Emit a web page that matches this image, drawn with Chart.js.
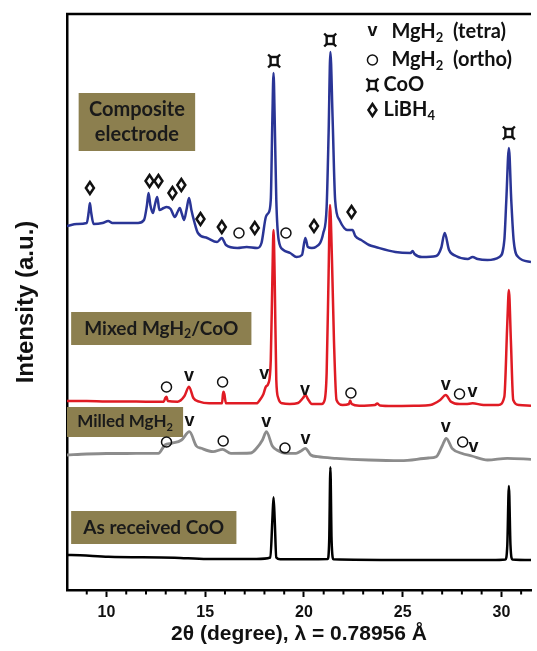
<!DOCTYPE html>
<html>
<head>
<meta charset="utf-8">
<script src="https://cdn.jsdelivr.net/npm/chart.js@4.4.1/dist/chart.umd.min.js"></script>
<style>
  body { margin: 0; background: #fff; }
  #wrap { width: 537px; height: 651px; }
</style>
</head>
<body>
<div id="wrap"><canvas id="xrd"></canvas></div>
<script>
// 2theta (deg) vs stacked intensity (a.u.)
const compositePts = [
  [8.0,364],[8.5,366],[9.0,367],[9.1,378],[9.16,387],[9.22,378],[9.35,366],[9.8,367],[10.09,369],[10.3,367],
  [11.0,367],[11.6,367],[11.9,370],[12.05,385],[12.13,397],[12.22,385],[12.35,377],[12.45,385],[12.57,393],[12.68,380],
  [12.9,382],[13.04,383],[13.25,381],[13.46,373],[13.6,378],[13.71,382],[13.82,376],[13.93,370],[14.05,380],[14.18,392],
  [14.3,380],[14.45,368],[14.63,357],[15.1,352],[15.6,348],[15.84,352],[16.05,345],[16.63,342],[17.1,343],[17.63,342],
  [17.85,347],[18.07,373],[18.2,377],[18.32,390],[18.4,470],[18.46,517],[18.52,470],[18.6,390],[18.72,350],[18.96,340],
  [19.3,337],[19.63,333],[19.9,335],[20.07,352],[20.2,343],[20.4,342],[20.6,343],[20.98,357],[21.15,383],[21.25,457],
  [21.34,538],[21.45,473],[21.58,390],[21.8,370],[22.2,360],[22.46,360],[22.6,354],[22.9,350],[23.3,345],[23.63,343],
  [24.63,338],[25.4,337],[25.5,339],[25.6,336],[25.98,333],[26.7,334],[26.95,342],[27.13,357],[27.35,340],[27.7,334],
  [28.3,331],[28.54,333],[28.8,331],[29.29,330],[29.9,333],[30.15,350],[30.25,390],[30.38,442],[30.5,390],[30.62,350],
  [30.85,333],[31.5,328]
];
const mixedPts = [
  [8.0,189],[9.0,189],[10.0,188.5],[11.0,188.5],[12.0,188.3],[12.9,188.3],[12.98,192],[13.04,193.3],[13.1,189],[13.6,188.3],
  [13.95,194],[14.18,203.3],[14.4,192],[14.7,188.3],[15.2,186.7],[15.85,186.7],[15.9,196],[15.93,198.3],[15.97,196],[16.05,186.7],
  [17.0,186.7],[17.6,186.7],[17.8,191],[17.95,196],[18.07,203.3],[18.2,206.7],[18.32,230],[18.4,310],[18.46,360],[18.52,310],
  [18.6,210],[18.7,192],[18.9,186.7],[19.28,186],[19.7,187],[19.95,192],[20.08,195],[20.2,191],[20.4,186],[20.9,186],
  [21.05,190],[21.15,217],[21.25,317],[21.32,385],[21.42,330],[21.52,250],[21.65,190],[21.96,185],[22.28,186],[22.34,189.5],
  [22.42,186],[22.8,184.3],[23.6,185],[23.71,186.5],[23.85,184.5],[24.5,184],[25.71,184.3],[26.4,185],[26.9,190],[27.18,195],
  [27.45,188.3],[27.88,186],[28.2,186],[28.54,186.7],[29.1,185],[29.85,185],[30.15,193.3],[30.3,267],[30.38,300],[30.48,250],
  [30.6,190],[30.9,185],[31.5,184.3]
];
const milledPts = [
  [8.0,135],[9.0,136],[10.0,136.5],[11.0,136.5],[12.0,136.7],[12.63,136.7],[12.96,145],[13.3,146.7],[13.8,150],[14.2,158.3],
  [14.55,144],[14.8,141.7],[15.4,138.3],[15.88,140.7],[16.3,136.7],[17.3,137],[17.6,141.7],[17.9,150],[18.1,158.3],[18.4,144],
  [18.63,140],[19.13,136.7],[19.6,136.7],[19.85,139],[20.07,141.7],[20.35,135],[20.7,133.3],[21.63,131.7],[23.29,130],[24.9,129.3],
  [26.3,132],[26.7,133.3],[27.0,144],[27.21,151.7],[27.5,141.7],[27.98,136.7],[28.5,134],[29.3,130],[30.3,131.7],[31.5,130.7]
];
const cooPts = [
  [8.0,35],[8.2,35],[10.1,33.3],[13.45,32.3],[15.1,31],[17.6,31],[18.3,32.5],[18.4,70],[18.46,92.7],[18.52,70],
  [18.6,32.5],[18.8,30.7],[21.2,31],[21.28,50],[21.34,122.7],[21.4,50],[21.5,30.7],[25.0,30],[29.5,30],[30.2,30.5],
  [30.3,45],[30.38,104],[30.46,45],[30.56,30.5],[31.5,30]
];

// phase markers: [2theta, intensity, kind]  v = MgH2 tetra, o = MgH2 ortho, c = CoO, d = LiBH4
const compositeMarks = [
  [9.16,402,'d'],[12.18,409,'d'],[12.63,409,'d'],[13.34,397,'d'],[13.79,405,'d'],[14.76,371,'d'],[15.84,363,'d'],
  [16.71,357,'o'],[17.51,362,'d'],[19.09,357,'o'],[20.51,364,'d'],[22.41,378,'d'],
  [18.49,529,'c'],[21.33,550,'c'],[30.38,457,'c']
];
const mixedMarks = [
  [13.04,203,'o'],[14.18,213,'v'],[15.88,208,'o'],[17.99,215,'v'],[20.05,199,'v'],[22.38,197,'o'],
  [27.18,204,'v'],[27.88,196,'o'],[28.54,197,'v']
];
const milledMarks = [
  [13.04,148,'o'],[14.21,168,'v'],[15.91,149,'o'],[18.09,167,'v'],[19.04,142,'o'],[20.08,150,'v'],
  [27.18,162,'v'],[28.04,148,'o'],[28.59,142,'v']
];

const seriesNames = ['Mixed MgH2/CoO', 'Composite electrode', 'Milled MgH2', 'As received CoO'];
const seriesColors = ['#e01b24', '#2a3596', '#8c8c8c', '#000000'];
const xTickLabels = [10, 15, 20, 25, 30];
const legendKinds = ['v', 'o', 'c', 'd'];
const legendTexts = [
  [['MgH', 0], ['2', 1], ['  (tetra)', 0]],
  [['MgH', 0], ['2', 1], ['  (ortho)', 0]],
  [['CoO', 0]],
  [['LiBH', 0], ['4', 1]]
];

const LABEL_FONT = 'Lato';

function drawRich(ctx, parts, x, y, size, align) {
  let w = 0;
  parts.forEach(([t, sub]) => {
    ctx.font = 'bold ' + (sub ? size * 0.65 : size) + 'px ' + LABEL_FONT;
    w += ctx.measureText(t).width;
  });
  let cx = align === 'center' ? x - w / 2 : x;
  ctx.textAlign = 'left';
  ctx.textBaseline = 'middle';
  parts.forEach(([t, sub]) => {
    ctx.font = 'bold ' + (sub ? size * 0.65 : size) + 'px ' + LABEL_FONT;
    ctx.fillText(t, cx, sub ? y + size * 0.3 : y);
    cx += ctx.measureText(t).width;
  });
}

function drawMark(ctx, kind, x, y) {
  ctx.save();
  ctx.fillStyle = '#111';
  ctx.strokeStyle = '#111';
  ctx.textAlign = 'center';
  ctx.textBaseline = 'middle';
  if (kind === 'v') {
    ctx.font = 'bold 18px "Liberation Sans"';
    ctx.fillText('v', x, y - 1);
  } else if (kind === 'o') {
    ctx.lineWidth = 1.5;
    ctx.beginPath();
    ctx.arc(x, y, 5, 0, Math.PI * 2);
    ctx.stroke();
  } else if (kind === 'd') {
    ctx.lineWidth = 2.5;
    ctx.beginPath();
    ctx.moveTo(x, y - 6);
    ctx.lineTo(x + 4, y);
    ctx.lineTo(x, y + 6);
    ctx.lineTo(x - 4, y);
    ctx.closePath();
    ctx.stroke();
  } else if (kind === 'c') {
    // currency-sign style mark: box with corner spurs
    ctx.lineWidth = 2.4;
    ctx.strokeRect(x - 3.5, y - 4, 7, 8);
    ctx.beginPath();
    ctx.moveTo(x - 3.5, y - 4); ctx.lineTo(x - 6, y - 6.5);
    ctx.moveTo(x + 3.5, y - 4); ctx.lineTo(x + 6, y - 6.5);
    ctx.moveTo(x - 3.5, y + 4); ctx.lineTo(x - 6, y + 6.5);
    ctx.moveTo(x + 3.5, y + 4); ctx.lineTo(x + 6, y + 6.5);
    ctx.stroke();
  }
  ctx.restore();
}

const decor = {
  id: 'decor',
  beforeDatasetsDraw(chart) {
    const { ctx, scales: { x, y } } = chart;
    // sample label boxes, placed in data units
    const boxes = [
      { x0: 8.59, x1: 14.49, y0: 439, y1: 497, size: 20, lines: [[['Composite', 0]], [['electrode', 0]]] },
      { x0: 8.21, x1: 17.34, y0: 245, y1: 278, size: 19, lines: [[['Mixed MgH', 0], ['2', 1], ['/CoO', 0]]] },
      { x0: 8.0, x1: 13.88, y0: 153, y1: 183, size: 17, lines: [[['Milled MgH', 0], ['2', 1]]] },
      { x0: 8.21, x1: 16.58, y0: 46, y1: 79, size: 19, lines: [[['As received CoO', 0]]] }
    ];
    ctx.save();
    boxes.forEach(b => {
      const l = x.getPixelForValue(b.x0), r = x.getPixelForValue(b.x1);
      const t = y.getPixelForValue(b.y1), btm = y.getPixelForValue(b.y0);
      ctx.fillStyle = '#8c7f4f';
      ctx.fillRect(l, t, r - l, btm - t);
      ctx.fillStyle = '#1a1a1a';
      const lh = 25, cy = (t + btm) / 2 - (b.lines.length - 1) * lh / 2;
      b.lines.forEach((ln, i) => drawRich(ctx, ln, (l + r) / 2, cy + i * lh, b.size, 'center'));
    });
    ctx.restore();
  },
  afterDraw(chart) {
    const { ctx, chartArea, scales: { x, y } } = chart;
    ctx.save();
    // top frame line
    ctx.strokeStyle = '#000';
    ctx.lineWidth = 2.5;
    ctx.beginPath();
    ctx.moveTo(chartArea.left - 1, chartArea.top);
    ctx.lineTo(chartArea.right, chartArea.top);
    ctx.stroke();
    // minor ticks
    ctx.lineWidth = 2;
    for (let v = 9; v <= 31; v++) {
      if (v % 5 === 0) continue;
      const px = x.getPixelForValue(v);
      ctx.beginPath();
      ctx.moveTo(px, chartArea.bottom);
      ctx.lineTo(px, chartArea.bottom + 4.5);
      ctx.stroke();
    }
    // phase markers
    [compositeMarks, mixedMarks, milledMarks].forEach(list => {
      list.forEach(([t, i, k]) => drawMark(ctx, k, x.getPixelForValue(t), y.getPixelForValue(i)));
    });
    // phase legend
    const rows = [558, 530, 505, 480];
    const textStart = [24.43, 24.43, 24.03, 24.03];
    legendKinds.forEach((k, i) => {
      const py = y.getPixelForValue(rows[i]);
      drawMark(ctx, k, x.getPixelForValue(23.47), py);
      ctx.fillStyle = '#111';
      drawRich(ctx, legendTexts[i], x.getPixelForValue(textStart[i]), py, 20, 'left');
    });
    ctx.restore();
  }
};

const allPts = [mixedPts, compositePts, milledPts, cooPts];

new Chart(document.getElementById('xrd'), {
  type: 'line',
  data: {
    datasets: allPts.map((pts, i) => ({
      label: seriesNames[i],
      data: pts.map(([a, b]) => ({ x: a, y: b })),
      borderColor: seriesColors[i],
      borderWidth: i === 2 ? 2.8 : 2.5,
      pointRadius: 0,
      cubicInterpolationMode: 'monotone',
      fill: false
    }))
  },
  options: {
    responsive: true,
    maintainAspectRatio: false,
    animation: false,
    layout: { padding: { top: 14, left: 0, right: 0, bottom: 0 } },
    plugins: { legend: { display: false }, tooltip: { enabled: false } },
    scales: {
      x: {
        type: 'linear',
        min: 8,
        max: 31.5,
        afterFit: s => { s.height = 61; },
        border: { display: true, color: '#000', width: 2.5 },
        grid: {
          display: true,
          drawOnChartArea: false,
          tickLength: 7,
          tickWidth: 2,
          tickColor: c => (c.tick && xTickLabels.includes(c.tick.value)) ? '#000' : 'rgba(0,0,0,0)'
        },
        ticks: {
          stepSize: 1,
          autoSkip: false,
          maxRotation: 0,
          padding: 6,
          color: '#111',
          font: { family: '"Liberation Sans", Arial', size: 16, weight: 'bold' },
          callback: v => xTickLabels.includes(v) ? String(v) : ''
        },
        title: {
          display: true,
          text: '2\u03b8 (degree), \u03bb = 0.78956 \u00c5',
          color: '#111',
          font: { family: '"Liberation Sans", Arial', size: 21, weight: 'bold' },
          padding: { top: 0, bottom: 4 }
        }
      },
      y: {
        min: 0,
        max: 576,
        afterFit: s => { s.width = 67; },
        border: { display: true, color: '#000', width: 2.5 },
        grid: { display: false },
        ticks: { display: false },
        title: {
          display: true,
          text: 'Intensity (a.u.)',
          color: '#111',
          font: { family: '"Liberation Sans", Arial', size: 24, weight: 'bold' },
          padding: { top: 12, bottom: 0 }
        }
      }
    }
  },
  plugins: [decor]
});
</script>
</body>
</html>
